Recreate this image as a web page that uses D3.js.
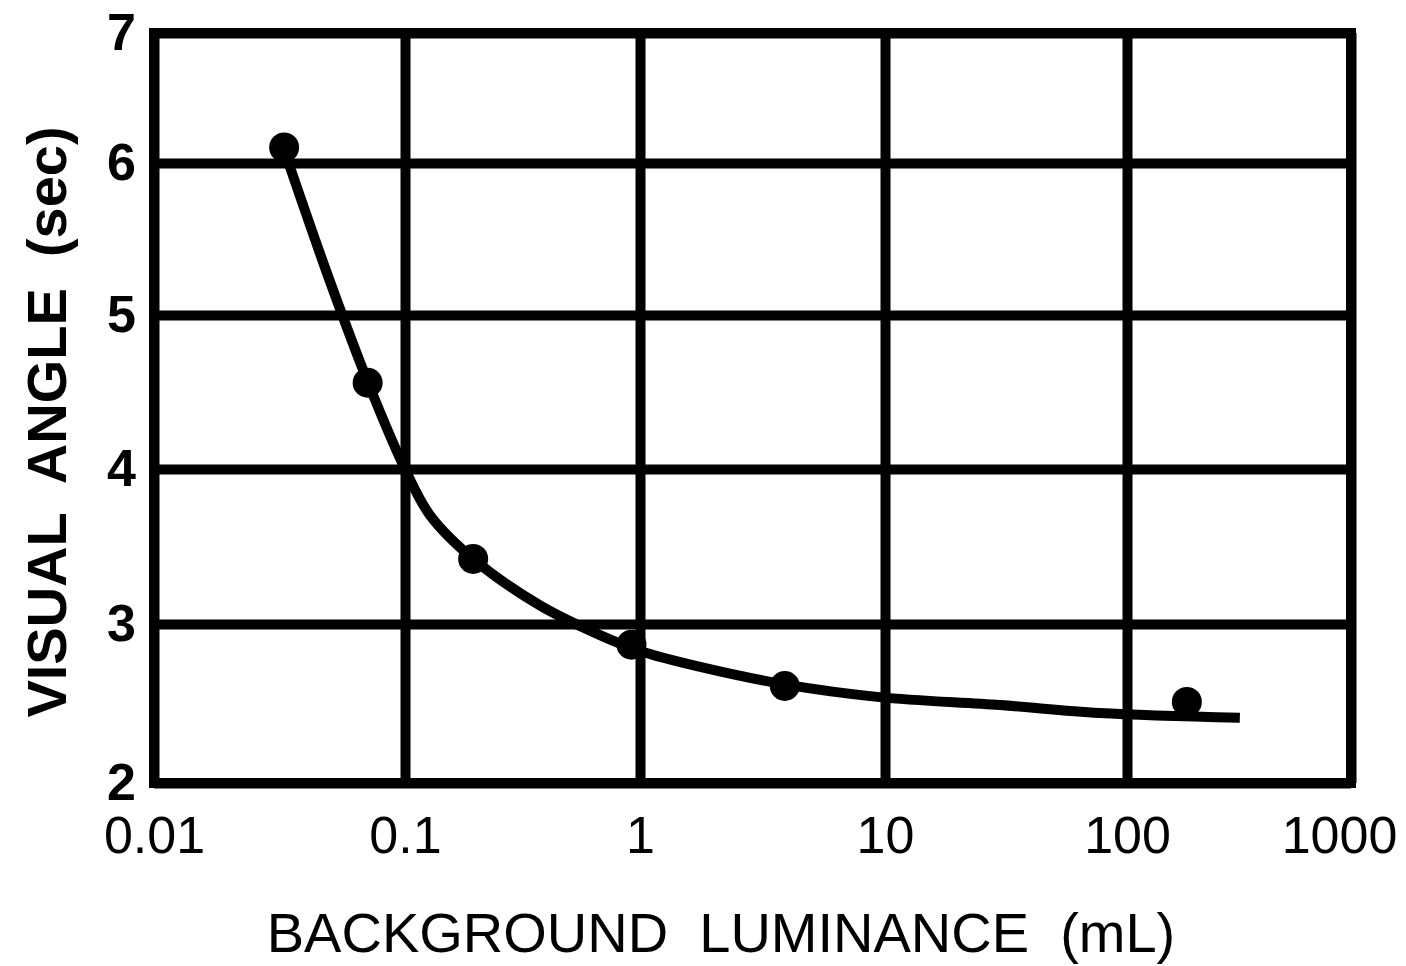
<!DOCTYPE html>
<html>
<head>
<meta charset="utf-8">
<script src="https://cdn.jsdelivr.net/npm/d3@7"></script>
<style>
  body { margin: 0; background: #fff; }
  text { font-family: "Liberation Sans", Arial, sans-serif; fill: #000; }
</style>
</head>
<body>
<div id="chart"></div>
<script>
const WIDTH = 1406;
const HEIGHT = 966;

// decades on the x axis, integer steps on the y axis
const xTicks = [0.01, 0.1, 1, 10, 100, 1000];
const xTickLabels = ["0.01", "0.1", "1", "10", "100", "1000"];
const yTicks = [2, 3, 4, 5, 6, 7];

// measured points
const luminance = [0.033, 0.071, 0.195, 0.92, 3.9, 185];
const visualAngle = [6.12, 4.56, 3.42, 2.87, 2.61, 2.51];

// hand drawn fitted curve
const curveLum = [0.033, 0.050, 0.0713, 0.1, 0.128, 0.195, 0.375, 0.676, 1.0, 1.76, 3.9, 9.5, 29.9, 77, 319];
const curveAngle = [6.10, 5.23, 4.56, 4.0, 3.70, 3.42, 3.12, 2.93, 2.83, 2.73, 2.62, 2.54, 2.49, 2.44, 2.41];

function setup(){
    let svg = d3.select("#chart")
        .append("svg")
        .attr("width",WIDTH)
        .attr("height",HEIGHT);

    // the original grid is drawn by hand, so the decades are not evenly spaced
    let x = d3.scaleLog()
        .domain(xTicks)
        .range([154, 405, 640, 885, 1127, 1351]);
    let y = d3.scaleLinear()
        .domain(yTicks)
        .range([783, 624, 469, 315, 163, 33]);

    let left = x(0.01), right = x(1000), top = y(7), bottom = y(2);

    let xAxis = d3.axisBottom(x)
        .tickValues(xTicks)
        .tickFormat((d,i) => xTickLabels[i])
        .tickSize(-(bottom-top))
        .tickPadding(33);
    let yAxis = d3.axisLeft(y)
        .tickValues(yTicks)
        .tickFormat(d3.format("d"))
        .tickSize(-(right-left))
        .tickPadding(18);

    let gx = svg.append("g")
        .attr("transform","translate(0,"+bottom+")")
        .call(xAxis);
    gx.select(".domain").remove();
    gx.selectAll("line").attr("stroke","#000").attr("stroke-width",10);
    gx.selectAll("text")
        .attr("font-size",52)
        .attr("font-family","Liberation Sans, Arial, sans-serif");
    // last label sits a little left of its gridline, like the original
    gx.selectAll("text").filter(d => d === 1000).attr("dx",-12);

    let gy = svg.append("g")
        .attr("transform","translate("+left+",0)")
        .call(yAxis);
    gy.select(".domain").remove();
    gy.selectAll("line").attr("stroke","#000").attr("stroke-width",10);
    gy.selectAll("text")
        .attr("font-size",52)
        .attr("font-weight","bold")
        .attr("font-family","Liberation Sans, Arial, sans-serif");

    svg.append("rect")
        .attr("x",left)
        .attr("y",top)
        .attr("width",right-left)
        .attr("height",bottom-top)
        .attr("fill","none")
        .attr("stroke","#000")
        .attr("stroke-width",10);

    let line = d3.line()
        .x((d,i) => x(curveLum[i]))
        .y(d => y(d))
        .curve(d3.curveCatmullRom);
    svg.append("path")
        .datum(curveAngle)
        .attr("d",line)
        .attr("fill","none")
        .attr("stroke","#000")
        .attr("stroke-width",10)
        .attr("stroke-linejoin","round");

    svg.selectAll(".dot")
        .data(visualAngle)
        .enter()
        .append("circle")
        .attr("class","dot")
        .attr("cx",(d,i) => x(luminance[i]))
        .attr("cy",d => y(d))
        .attr("r",15)
        .attr("fill","#000");

    svg.append("text")
        .attr("x",721)
        .attr("y",952)
        .attr("text-anchor","middle")
        .attr("font-size",56)
        .style("white-space","pre")
        .text("BACKGROUND  LUMINANCE  (mL)");

    svg.append("text")
        .attr("transform","translate(66,422) rotate(-90)")
        .attr("text-anchor","middle")
        .attr("font-size",56)
        .attr("font-weight","bold")
        .style("white-space","pre")
        .text("VISUAL  ANGLE  (sec)");
}

window.addEventListener("load",setup);
</script>
</body>
</html>
